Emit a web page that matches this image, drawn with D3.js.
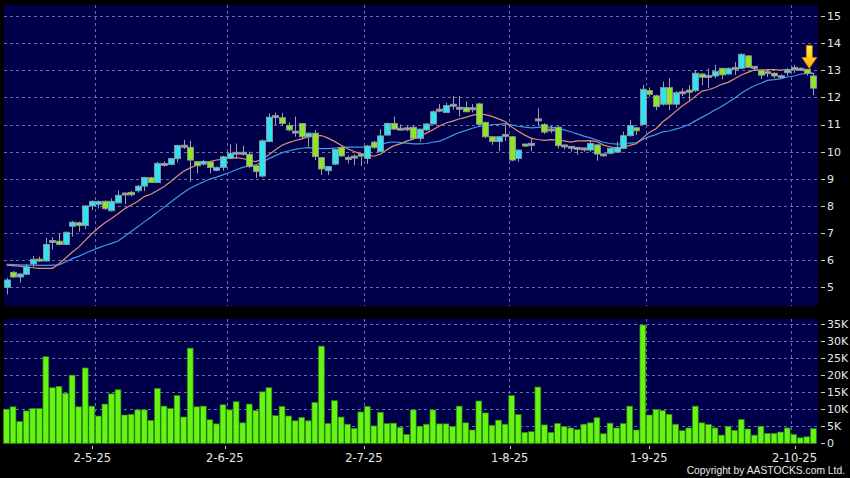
<!DOCTYPE html>
<html><head><meta charset="utf-8">
<script src="https://cdn.jsdelivr.net/npm/d3@7"></script>
<style>html,body{margin:0;padding:0;background:#000;}svg{display:block;}</style>
</head><body>
<svg id="chart" width="850" height="478"></svg>
<script>
// ---------------- DATA ----------------
const opens = [5.00,5.55,5.38,5.48,5.86,6.04,5.97,6.69,6.70,6.58,
7.25,7.38,7.28,8.00,8.06,8.17,7.82,8.11,8.44,8.50,
8.56,8.73,9.04,8.86,9.53,9.53,9.74,10.20,10.16,9.63,
9.54,9.62,9.31,9.42,9.75,9.94,9.94,9.90,9.48,9.10,
10.37,11.29,11.25,10.97,10.72,11.04,10.55,10.68,9.78,9.30,
9.54,10.15,9.75,9.80,9.91,9.75,10.35,10.00,10.61,11.04,
10.83,10.84,10.90,10.49,10.80,11.02,11.53,11.44,11.71,11.60,
11.63,11.58,11.76,11.08,10.55,10.37,10.60,10.55,9.75,10.28,
10.27,11.17,11.00,10.80,10.90,10.21,10.16,10.12,10.10,10.06,
10.25,9.88,9.94,9.98,10.12,10.59,10.88,11.00,12.25,12.06,
11.75,12.36,11.75,12.17,12.27,12.25,12.86,12.77,12.79,13.07,
12.86,13.07,13.07,13.53,13.11,13.00,12.91,12.89,12.76,12.91,
13.07,13.04,13.04,12.79];
const highs = [5.35,5.60,5.52,5.86,6.15,6.13,6.83,6.85,6.98,7.05,
7.45,7.42,8.02,8.20,8.20,8.20,8.28,8.57,8.48,8.55,
8.76,9.07,9.07,9.62,9.65,9.77,10.25,10.43,10.40,9.65,
9.70,9.65,9.45,9.85,10.27,10.30,10.22,10.00,9.50,10.45,
11.41,11.44,11.43,11.08,11.29,11.05,10.70,10.80,9.80,9.47,
10.10,10.20,9.85,9.90,9.95,10.25,10.40,10.82,11.08,11.29,
11.00,10.95,10.95,10.85,11.05,11.52,11.75,11.80,12.05,12.05,
11.85,11.75,11.80,11.10,10.58,10.57,11.02,10.57,10.08,10.30,
10.52,11.60,11.05,10.95,10.95,10.25,10.20,10.18,10.15,10.43,
10.28,9.92,10.15,10.37,10.74,11.17,10.90,12.46,12.37,12.10,
12.58,12.70,12.22,12.33,12.45,13.00,12.90,13.07,13.20,13.10,
13.10,13.30,13.62,13.55,13.15,13.05,13.00,12.92,12.85,13.08,
13.20,13.10,13.05,12.90];
const lows = [4.74,5.35,5.17,5.45,5.76,5.95,5.95,6.40,6.55,6.55,
6.87,7.05,7.15,7.85,7.90,7.85,7.80,8.10,8.06,8.35,
8.49,8.55,8.85,8.85,9.45,9.50,9.60,10.10,8.88,9.20,
9.50,9.20,9.28,9.30,9.72,9.75,9.85,9.40,9.03,9.05,
10.35,10.98,10.95,10.75,10.55,10.50,10.18,9.69,9.14,9.14,
9.50,9.80,9.56,9.50,9.47,9.55,10.10,9.98,10.60,10.80,
10.78,10.75,10.45,10.37,10.78,11.00,11.45,11.42,11.55,11.30,
11.45,11.45,10.98,10.50,10.25,10.02,10.40,9.65,9.63,10.18,
10.02,10.96,10.65,10.68,10.12,10.08,10.00,9.88,10.00,10.00,
9.67,9.82,9.90,9.95,10.10,10.55,10.61,10.98,12.02,11.53,
11.70,11.53,11.62,12.05,11.85,12.20,12.45,12.35,12.70,12.67,
12.85,12.83,13.05,13.08,13.00,12.68,12.75,12.70,12.70,12.80,
12.90,12.98,12.80,12.08];
const closes = [5.27,5.38,5.49,5.76,6.03,5.97,6.58,6.69,6.58,7.03,
7.40,7.28,8.00,8.17,8.16,7.90,8.17,8.39,8.44,8.41,
8.73,9.05,8.86,9.57,9.53,9.75,10.23,10.20,9.69,9.48,
9.64,9.42,9.42,9.81,9.94,9.94,9.94,9.45,9.27,10.40,
11.27,11.29,11.04,10.80,10.72,10.55,10.68,9.82,9.36,9.45,
10.08,9.84,9.75,9.80,9.84,10.21,10.16,10.58,11.04,10.83,
10.83,10.84,10.49,10.83,11.02,11.47,11.53,11.70,11.71,11.60,
11.47,11.58,11.01,10.55,10.37,10.55,10.60,9.69,10.06,10.21,
10.27,11.17,10.72,10.80,10.22,10.21,10.16,10.12,10.10,10.30,
9.91,9.88,10.12,10.16,10.59,10.96,10.77,12.30,12.11,11.66,
12.36,11.75,12.17,12.17,12.19,12.89,12.74,12.77,12.95,12.83,
13.07,13.07,13.59,13.11,13.11,12.82,12.91,12.79,12.76,13.00,
13.07,13.04,12.89,12.34];
// volume, thousands of shares
const volumes = [10.0,10.7,6.4,9.5,10.2,10.2,25.4,16.3,16.7,14.7,
20.0,10.7,22.1,10.9,8.0,11.5,14.5,15.7,8.3,8.5,
9.8,9.8,6.7,16.1,10.9,10.2,14.0,7.7,27.9,10.7,
10.9,6.9,5.7,11.3,9.8,12.2,6.0,11.5,9.6,15.1,
16.3,8.1,10.8,8.0,6.6,7.6,6.6,12.0,28.5,5.8,
12.5,7.7,5.6,4.4,9.2,10.8,5.1,9.1,5.8,5.9,
4.7,2.6,9.8,5.0,5.6,9.8,5.7,5.7,4.9,10.9,
6.0,3.9,12.4,8.9,5.3,6.8,5.6,14.0,8.4,3.2,
3.4,16.5,5.4,3.2,5.8,4.9,4.5,4.0,5.6,6.0,
7.5,2.8,5.9,4.5,5.8,10.9,3.9,34.7,8.3,9.9,
9.6,8.5,5.6,3.7,4.5,10.9,6.0,5.5,4.5,2.4,
5.0,3.8,7.0,4.2,2.4,5.0,2.9,2.9,3.3,4.5,
2.6,1.6,1.9,4.3];
// closes before the first visible session (only feed the moving averages)
const preCloses = [5.58,5.69,5.96,6.03,6.17,6.58,6.50,6.38,4.96,4.95,
5.58,5.69,6.16,6.23,6.17,6.58,6.70,4.87,4.95];
const dateLabels = ["2-5-25","2-6-25","2-7-25","1-8-25","1-9-25","2-10-25"];
const dateIndex = [14,34,55,77,98,120];
const priceTicks = [5,6,7,8,9,10,11,12,13,14,15];
const volTicks = [0,5,10,15,20,25,30,35];
const maPeriods = [10,20];
const arrowIndex = 122;

// ---------------- DRAW ----------------
const N = closes.length;
const svg = d3.select("#chart");
const C = {
  bg:"#000000", panel:"#00004a", grid:"#6c6ca4",
  up:"#2fe4f0", down:"#8ee526", flat:"#a8a8b0", wick:"#a0a0a8", outline:"#9096a0",
  vol:"#66f414", volEdge:"#2e8a08", ma:["#e0906c","#3d9be6"], text:"#e6e6e6"
};
const P = {x0:4, x1:818, top:5, bot:306};
const V = {top:319, bot:444};

const x = d3.scaleLinear().domain([0, N-1]).range([6.5, 813.4]);
const xt = d3.scaleLinear().domain([0, N]).range([-0.45, 821.05]);
const y = d3.scaleLinear().domain([5, 15]).range([287.3, 16]);
const yv = d3.scaleLinear().domain([0, 35]).range([443.3, 324]);

svg.append("rect").attr("width",850).attr("height",478).attr("fill",C.bg);
svg.append("rect").attr("x",P.x0).attr("y",P.top).attr("width",P.x1-P.x0).attr("height",P.bot-P.top).attr("fill",C.panel);
svg.append("rect").attr("x",P.x0).attr("y",V.top).attr("width",P.x1-P.x0).attr("height",V.bot-V.top).attr("fill",C.panel);

// grids
const g = svg.append("g").attr("stroke",C.grid).attr("stroke-width",1).attr("stroke-dasharray","3,3").attr("fill","none");
priceTicks.forEach(t=>{ const yy=Math.round(y(t))+0.5;
  g.append("line").attr("x1",P.x0).attr("x2",P.x1).attr("y1",yy).attr("y2",yy); });
volTicks.filter(t=>t>0).forEach(t=>{ const yy=Math.round(yv(t))+0.5;
  g.append("line").attr("x1",P.x0).attr("x2",P.x1).attr("y1",yy).attr("y2",yy); });
dateIndex.forEach(d=>{ const xx=Math.round(x(d-0.45))+0.5;
  g.append("line").attr("x1",xx).attr("x2",xx).attr("y1",P.top).attr("y2",P.bot);
  g.append("line").attr("x1",xx).attr("x2",xx).attr("y1",V.top).attr("y2",V.bot); });

// moving averages (blue drawn first, orange on top)
const all = preCloses.concat(closes);
const off = preCloses.length;
const maG = svg.append("g");
[1,0].forEach(k=>{
  const p = maPeriods[k];
  const pts = d3.range(N).map(i=>{
    const j=i+off; const s=d3.sum(all.slice(j-p+1,j+1)); return [x(i), y(s/p)];
  });
  maG.append("path").attr("d",d3.line()(pts)).attr("fill","none")
    .attr("stroke",C.ma[k]).attr("stroke-width",1.2);
});

// candles
const cg = svg.append("g");
d3.range(N).forEach(i=>{
  const o=opens[i], c=closes[i], cx=Math.round(x(i))+0.5;
  cg.append("line").attr("x1",cx).attr("x2",cx).attr("y1",y(highs[i])).attr("y2",y(lows[i]))
    .attr("stroke",C.wick).attr("stroke-width",1);
  const flat = Math.abs(c-o)<0.015;
  const top=y(Math.max(o,c)), bottom=y(Math.min(o,c));
  const h=Math.max(bottom-top, 2);
  cg.append("rect").attr("x",cx-3).attr("y",flat? y(c)-1 : top).attr("width",6).attr("height",h)
    .attr("fill", flat? C.flat : (c>o? C.up : C.down))
    .attr("stroke", C.outline).attr("stroke-width",0.9);
});

// volume bars
const vg = svg.append("g");
volumes.forEach((v,i)=>{
  const cx=x(i);
  vg.append("rect").attr("x",cx-2.9).attr("y",yv(v)).attr("width",5.8).attr("height",yv(0)-yv(v))
    .attr("fill",C.vol).attr("stroke",C.volEdge).attr("stroke-width",0.7);
});

// arrow
const defs = svg.append("defs");
const gr = defs.append("linearGradient").attr("id","ag").attr("x1",0).attr("x2",0).attr("y1",0).attr("y2",1);
gr.append("stop").attr("offset","0%").attr("stop-color","#fff44a");
gr.append("stop").attr("offset","100%").attr("stop-color","#ffa800");
const ax = x(arrowIndex)+2.5, ay = y(highs[arrowIndex])-0.5;
svg.append("path").attr("d",
  `M${ax-3},${ay-23} L${ax+3},${ay-23} L${ax+3},${ay-11} L${ax+7.5},${ay-11} L${ax},${ay} L${ax-7.5},${ay-11} L${ax-3},${ay-11} Z`)
  .attr("fill","url(#ag)").attr("stroke","#c77a00").attr("stroke-width",0.8);

// right axis
const tg = svg.append("g").attr("font-family","DejaVu Sans, Verdana, sans-serif").attr("font-size","11px").attr("fill",C.text);
priceTicks.forEach(t=>{
  svg.append("line").attr("x1",821).attr("x2",825).attr("y1",Math.round(y(t))+0.5).attr("y2",Math.round(y(t))+0.5).attr("stroke","#cfcfcf");
  tg.append("text").attr("x",827).attr("y",y(t)).attr("dy","0.36em").text(t);
});
volTicks.forEach(t=>{
  svg.append("line").attr("x1",821).attr("x2",825).attr("y1",Math.round(yv(t))+0.5).attr("y2",Math.round(yv(t))+0.5).attr("stroke","#cfcfcf");
  tg.append("text").attr("x",827).attr("y",yv(t)).attr("dy","0.36em").text(t===0?"0":t+"K");
});
// date axis
dateIndex.forEach((d,k)=>{
  const xx=Math.round(xt(d))+0.5;
  svg.append("line").attr("x1",xx).attr("x2",xx).attr("y1",446).attr("y2",449).attr("stroke","#cfcfcf");
  tg.append("text").attr("x",xt(d)).attr("y",462).attr("text-anchor","middle").attr("font-size","11.5px").text(dateLabels[k]);
});
svg.append("text").attr("x",845).attr("y",474).attr("text-anchor","end")
  .attr("font-family","Liberation Sans, Arial, sans-serif").attr("font-size","10.3px").attr("fill",C.text)
  .text("Copyright by AASTOCKS.com Ltd.");
</script>
</body></html>
